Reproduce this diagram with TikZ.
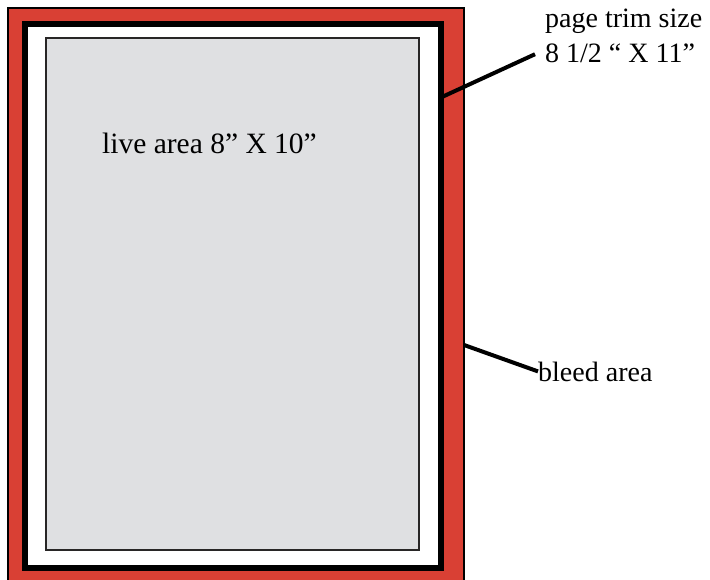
\documentclass[tikz,border=0pt]{standalone}
\usepackage{fontspec}
\setmainfont{Liberation Serif}
\usetikzlibrary{calc}

\definecolor{bleedred}{RGB}{217,64,52}
\definecolor{livegray}{RGB}{223,224,226}
\definecolor{edgegray}{RGB}{40,38,38}

\begin{document}
\begin{tikzpicture}[
    x=1pt, y=-1pt,
    area/.style={
        draw,
        shape=rectangle,
        inner sep=0pt,
        outer sep=0pt,
    },
    lbl/.style={
        inner sep=0pt,
        align=left,
        font={\fontsize{28}{35}\selectfont},
    },
    pointer/.style={line width=4pt},
]

\useasboundingbox (0,0) rectangle (710,579);
\clip (0,0) rectangle (710,579);

\def\LW{6pt}   %width of trim line

\node[area,fill=bleedred,line width=2pt,minimum width=456,minimum height=582] (bleed) at (236,299) {};
\node[area,fill=white,line width=\LW,minimum width=416,minimum height=544] (trim) at (233,296) {};
\node[area,fill=livegray,draw=edgegray,line width=2pt,minimum width=373,minimum height=512] (live) at (232.5,294) {};

\node[lbl,anchor=base west] (livetxt) at (102,153) {\fontsize{29.5}{35}\selectfont live area 8” X 10”};
\node[lbl,anchor=north west] (trimtxt) at (545,9) {page trim size\\8 1/2 “ X 11”};
\node[lbl,anchor=base west] (bleedtxt) at (538,381) {bleed area};

\draw[pointer] ($(trim.north east)!0.135!(trim.south east)$) -- ($(trimtxt.south west)+(-10,-9)$);
\draw[pointer] ($(bleed.north east)!0.579!(bleed.south east)$) -- (bleedtxt.west);

\end{tikzpicture}
\end{document}
